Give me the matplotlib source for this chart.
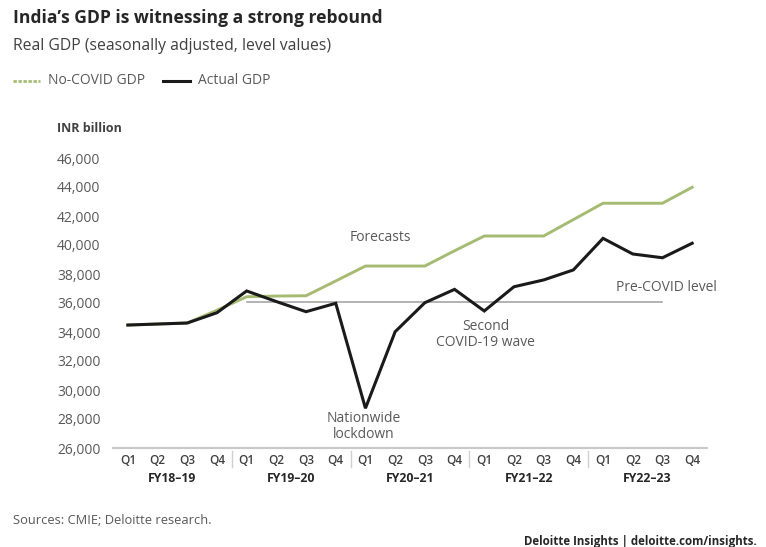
import matplotlib
matplotlib.use("Agg")
import matplotlib.pyplot as plt
import matplotlib.transforms as mtransforms
import numpy as np

plt.rcParams['font.family'] = ['Open Sans', 'DejaVu Sans']

quarters = ['Q1', 'Q2', 'Q3', 'Q4'] * 5
fiscal_years = ['FY18\u201319', 'FY19\u201320', 'FY20\u201321', 'FY21\u201322', 'FY22\u201323']

actual_gdp = [34480, 34550, 34620, 35330, 36830, 36100, 35400, 35980, 28740, 34020,
              36020, 36940, 35450, 37120, 37590, 38280, 40460, 39380, 39120, 40120]
no_covid_gdp = [34480, 34550, 34620, 35500, 36430, 36480, 36500, 37520, 38550, 38550,
                38550, 39600, 40620, 40620, 40620, 41750, 42880, 42880, 42880, 43980]
pre_covid_level = 36050
yticks = np.arange(26000, 46001, 2000)

green = '#a6bb72'
grey_text = '#595959'
W, H = 766, 547

fig = plt.figure(figsize=(W / 100, H / 100), dpi=100)
ax = fig.add_axes([113 / W, (H - 448) / H, (707 - 113) / W, (448 - 158) / H])

x = np.arange(len(actual_gdp))
ax.plot(x, no_covid_gdp, color=green, lw=2.1, solid_joinstyle='miter', clip_on=False)
ax.plot(x, actual_gdp, color='#1a1a1a', lw=2.2, solid_joinstyle='miter', clip_on=False)
ax.plot([4, 18], [pre_covid_level, pre_covid_level], color='#a6a6a6', lw=1.2, zorder=1)

ax.set_xlim(-0.5, 19.5)
ax.set_ylim(26000, 46000)
ax.set_yticks(yticks)
ax.set_yticklabels([f'{v:,}' for v in yticks], color=grey_text, fontsize=10)
ax.tick_params(axis='y', length=0, pad=9)
ax.set_xticks(x)
ax.set_xticklabels(quarters, color='#404040', fontsize=8.5, fontweight='semibold')
ax.tick_params(axis='x', length=0, pad=4)
for s in ['top', 'right', 'left']:
    ax.spines[s].set_visible(False)
ax.spines['bottom'].set_color('#c8c8c8')
ax.spines['bottom'].set_linewidth(1.5)

# fiscal-year labels and separators under the quarter labels
trans = mtransforms.blended_transform_factory(ax.transData, fig.transFigure)
for k, fy in enumerate(fiscal_years):
    ax.text(4 * k + 1.5, 1 - 478 / H, fy, transform=trans, ha='center', va='center',
            fontsize=8.8, fontweight='bold', color='#262626')
    if k > 0:
        ax.plot([4 * k - 0.5] * 2, [1 - 451 / H, 1 - 467 / H], transform=trans,
                color='#d0d0d0', lw=1, clip_on=False)

ann = dict(fontsize=10, color=grey_text, ha='center')
ax.text(8.5, 40500, 'Forecasts', va='center', **ann)
ax.text(7.95, 28550, 'Nationwide\nlockdown', linespacing=1.1, va='top', **ann)
ax.text(12.05, 34900, 'Second\nCOVID-19 wave', linespacing=1.1, va='top', **ann)
ax.text(18.15, 37100, 'Pre-COVID level', va='center', **ann)

# header
fig.text(13 / W, 1 - 18 / H, 'India\u2019s GDP is witnessing a strong rebound', fontsize=12.6,
         fontweight='bold', color='#262626', va='center')
fig.text(13 / W, 1 - 46 / H, 'Real GDP (seasonally adjusted, level values)', fontsize=11.3,
         color='#404040', va='center')

# legend
fig.lines.append(plt.Line2D([13 / W, 40 / W], [1 - 81 / H] * 2, color=green, lw=2,
                            ls=(0, (1.2, 0.6)), transform=fig.transFigure))
fig.text(48 / W, 1 - 81 / H, 'No-COVID GDP', fontsize=10, color=grey_text, va='center')
fig.lines.append(plt.Line2D([163 / W, 190 / W], [1 - 81 / H] * 2, color='#1a1a1a', lw=2.2,
                            transform=fig.transFigure))
fig.text(198 / W, 1 - 81 / H, 'Actual GDP', fontsize=10, color=grey_text, va='center')

fig.text(57 / W, 1 - 128 / H, 'INR billion', fontsize=9, fontweight='bold', color='#404040',
         va='center')

# footer
fig.text(13 / W, 1 - 521 / H, 'Sources: CMIE; Deloitte research.', fontsize=9.3,
         color=grey_text, va='center')
fig.text(757 / W, 1 - 541 / H, 'Deloitte Insights | deloitte.com/insights.', fontsize=8.3,
         fontweight='bold', color='#262626', ha='right', va='center')

fig.savefig('out.png', dpi=100, facecolor='white')
